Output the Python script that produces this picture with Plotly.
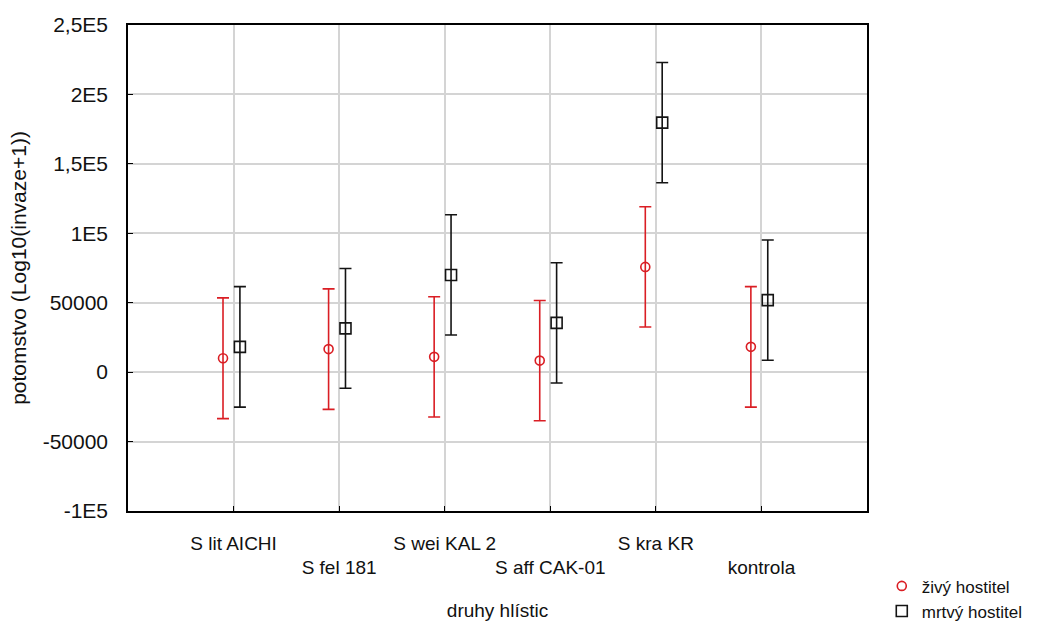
import plotly.graph_objects as go

categories = ["S lit AICHI", "S fel 181", "S wei KAL 2", "S aff CAK-01", "S kra KR", "kontrola"]
series_names = ["živý hostitel", "mrtvý hostitel"]
zivy_mean = [10000, 16600, 11000, 8300, 75800, 18200]
zivy_err = [43500, 43400, 43300, 43300, 43300, 43400]
mrtvy_mean = [18200, 31500, 70000, 35500, 179700, 51900]
mrtvy_err = [43400, 43100, 43300, 43300, 43300, 43300]
y_tickvals = [-100000, -50000, 0, 50000, 100000, 150000, 200000, 250000]
y_ticktext = ["-1E5", "-50000", "0", "50000", "1E5", "1,5E5", "2E5", "2,5E5"]

FONT = "Liberation Sans, Arial, sans-serif"
RED = "rgb(218,30,36)"
BLACK = "rgb(20,20,20)"

idx = list(range(len(categories)))
x_red = [i - 0.1 for i in idx]
x_black = [i + 0.06 for i in idx]
cat_text = [c if i % 2 == 0 else "<br>" + c for i, c in enumerate(categories)]

fig = go.Figure()
fig.add_trace(go.Scatter(
    x=x_red, y=zivy_mean, mode="markers", name=series_names[0],
    marker=dict(symbol="circle-open", size=9, color=RED, line=dict(width=1.6, color=RED)),
    error_y=dict(type="data", array=zivy_err, visible=True, color=RED, thickness=1.6, width=6),
))
fig.add_trace(go.Scatter(
    x=x_black, y=mrtvy_mean, mode="markers", name=series_names[1],
    marker=dict(symbol="square-open", size=11, color=BLACK, line=dict(width=1.6, color=BLACK)),
    error_y=dict(type="data", array=mrtvy_err, visible=True, color=BLACK, thickness=1.6, width=6),
))

fig.update_layout(
    width=1047, height=625,
    margin=dict(l=128, r=180, t=25, b=114, autoexpand=False),
    paper_bgcolor="white", plot_bgcolor="white",
    font=dict(family=FONT, size=20, color="#111"),
    showlegend=True,
    legend=dict(x=1.02, y=-0.118, xanchor="left", yanchor="top",
                font=dict(family=FONT, size=17, color="#111"),
                bgcolor="rgba(0,0,0,0)", tracegroupgap=0, itemwidth=30),
)
fig.update_xaxes(
    range=[-1, 6], tickmode="array", tickvals=idx, ticktext=cat_text,
    tickangle=0, automargin=False,
    showgrid=True, gridcolor="#d4d4d4", gridwidth=1.5,
    showline=True, linecolor="black", linewidth=1.5, mirror=True,
    ticks="inside", ticklen=5, tickcolor="black", tickwidth=1,
    zeroline=False, ticklabelstandoff=14,
    tickfont=dict(family=FONT, size=19, color="#111"),
    title=dict(text="druhy hlístic", font=dict(family=FONT, size=19, color="#111"), standoff=26),
)
fig.update_yaxes(
    range=[-100000, 250000], tickmode="array", tickvals=y_tickvals, ticktext=y_ticktext,
    automargin=False,
    showgrid=True, gridcolor="#d4d4d4", gridwidth=1.5,
    showline=True, linecolor="black", linewidth=1.5, mirror=True,
    ticks="inside", ticklen=5, tickcolor="black", tickwidth=1,
    zeroline=False, ticklabelstandoff=14,
    tickfont=dict(family=FONT, size=21, color="#111"),
    title=dict(text="potomstvo (Log10(invaze+1))", font=dict(family=FONT, size=21, color="#111"), standoff=10),
)

fig.write_html("out.html")
